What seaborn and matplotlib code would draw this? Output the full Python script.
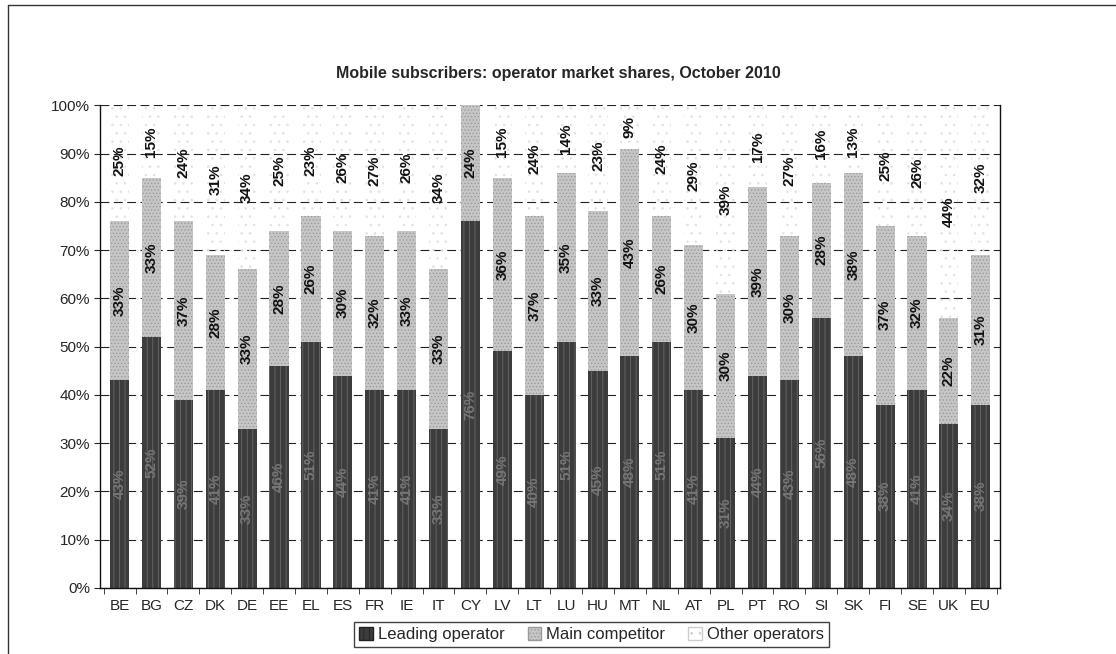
import numpy as np
import pandas as pd
import matplotlib
matplotlib.use("Agg")
import matplotlib.pyplot as plt
import seaborn as sns
from matplotlib.patches import Patch
from matplotlib.lines import Line2D

countries = ['BE', 'BG', 'CZ', 'DK', 'DE', 'EE', 'EL', 'ES', 'FR', 'IE', 'IT', 'CY', 'LV', 'LT',
             'LU', 'HU', 'MT', 'NL', 'AT', 'PL', 'PT', 'RO', 'SI', 'SK', 'FI', 'SE', 'UK', 'EU']
leading = [43, 52, 39, 41, 33, 46, 51, 44, 41, 41, 33, 76, 49, 40,
           51, 45, 48, 51, 41, 31, 44, 43, 56, 48, 38, 41, 34, 38]
competitor = [33, 33, 37, 28, 33, 28, 26, 30, 32, 33, 33, 24, 36, 37,
              35, 33, 43, 26, 30, 30, 39, 30, 28, 38, 37, 32, 22, 31]
others = [25, 15, 24, 31, 34, 25, 23, 26, 27, 26, 34, 0, 15, 24,
          14, 23, 9, 24, 29, 39, 17, 27, 16, 13, 25, 26, 44, 32]

df = pd.DataFrame({'country': countries, 'leading': leading,
                   'competitor': competitor, 'others': others})
df['lead_comp'] = df['leading'] + df['competitor']
df['total'] = (df['lead_comp'] + df['others']).clip(upper=100)

sns.set_style('white')
plt.rcParams['font.family'] = ['Liberation Sans', 'DejaVu Sans']
plt.rcParams['hatch.linewidth'] = 0.6

fig = plt.figure(figsize=(11.16, 6.54), dpi=100)
ax = fig.add_axes([0.09, 0.101, 0.806, 0.738])

c_lead = '#3c3c3c'
c_comp = '#c6c6c6'
w = 0.6

# stacked by overlapping cumulative totals
sns.barplot(data=df, x='country', y='total', color='white', width=w, ax=ax,
            saturation=1, edgecolor='none', zorder=2)
sns.barplot(data=df, x='country', y='lead_comp', color=c_comp, width=w, ax=ax,
            saturation=1, edgecolor='none', zorder=2)
sns.barplot(data=df, x='country', y='leading', color=c_lead, width=w, ax=ax,
            saturation=1, edgecolor='none', zorder=2)

n = len(countries)
for p in ax.patches[:n]:
    p.set_facecolor('none')
    p.set_hatch('..')
    p.set_edgecolor('#e2e2e2')
    p.set_linewidth(0)
for p in ax.patches[n:2 * n]:
    p.set_hatch('.....')
    p.set_edgecolor('#9a9a9a')
    p.set_linewidth(0)
for p in ax.patches[2 * n:]:
    p.set_hatch('|||')
    p.set_edgecolor('#6a6a6a')
    p.set_linewidth(0)

for i, row in df.iterrows():
    ax.text(i, row['leading'] / 2, f"{row['leading']}%", rotation=90, ha='center', va='center',
            fontsize=11, fontweight='bold', color='#767676', zorder=4)
    ax.text(i, row['leading'] + row['competitor'] / 2, f"{row['competitor']}%", rotation=90,
            ha='center', va='center', fontsize=11, fontweight='bold', color='#111111', zorder=4)
    if row['others'] > 0:
        ax.text(i, row['lead_comp'] + row['others'] / 2, f"{row['others']}%", rotation=90,
                ha='center', va='center', fontsize=11, fontweight='bold', color='#111111', zorder=4)

ax.set_ylim(0, 100)
ax.set_xlim(-0.6, n - 0.4)
ax.set_yticks(range(0, 101, 10))
ax.set_yticklabels([f'{v}%' for v in range(0, 101, 10)], fontsize=11)
ax.tick_params(axis='y', length=4, direction='out', left=True)
ax.set_xticks(np.arange(-0.5, n, 1), minor=True)
ax.tick_params(axis='x', which='major', length=0, pad=8, labelsize=11)
ax.tick_params(axis='x', which='minor', length=4, direction='out', bottom=True)
ax.set_xlabel('')
ax.set_ylabel('')
ax.yaxis.grid(True, linestyle=(0, (8, 4)), color='#222222', linewidth=0.8, zorder=1)
ax.set_axisbelow(True)
ax.spines['top'].set_visible(False)
for s in ['left', 'bottom', 'right']:
    ax.spines[s].set_color('#111111')
    ax.spines[s].set_linewidth(1.0)

fig.text(0.5, 0.888, 'Mobile subscribers: operator market shares, October 2010',
         ha='center', va='center', fontsize=11.5, fontweight='bold')

handles = [Patch(facecolor=c_lead, edgecolor='#222222', hatch='|||', label='Leading operator'),
           Patch(facecolor=c_comp, edgecolor='#9a9a9a', hatch='.....', label='Main competitor'),
           Patch(facecolor='white', edgecolor='#cccccc', hatch='..', label='Other operators')]
fig.legend(handles=handles, loc='center', bbox_to_anchor=(0.53, 0.03), ncol=3, fontsize=12,
           frameon=True, fancybox=False, edgecolor='#111111', handlelength=0.8, handleheight=0.8,
           handletextpad=0.3, columnspacing=1.4, borderpad=0.3)

# scanned page frame: top and left edges
fig.add_artist(Line2D([0.007, 1.0], [0.992, 0.992], transform=fig.transFigure,
                      color='#333333', linewidth=1.0))
fig.add_artist(Line2D([0.007, 0.007], [0.0, 0.992], transform=fig.transFigure,
                      color='#333333', linewidth=1.0))

fig.savefig('out.png', dpi=100)
